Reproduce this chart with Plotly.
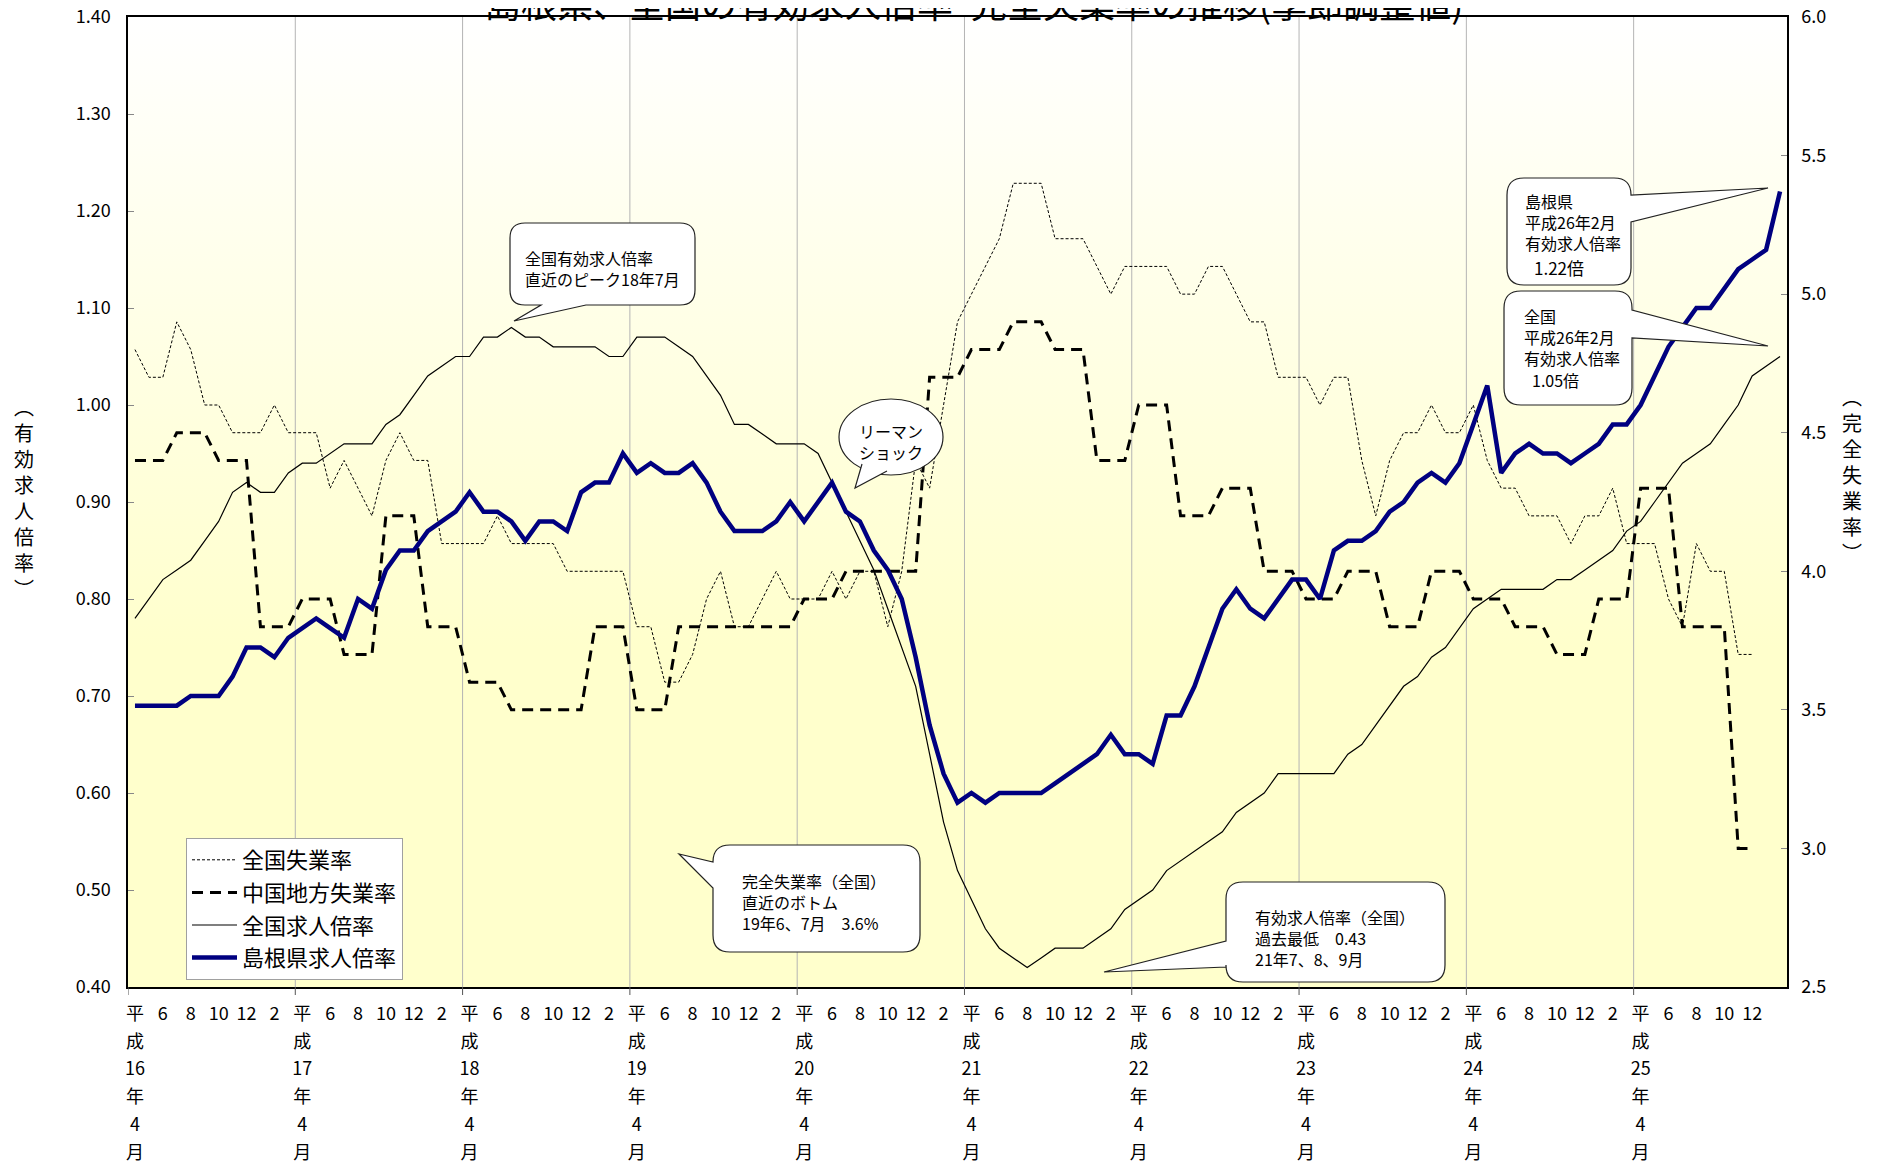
import re
import base64
import plotly.graph_objects as go

# ---------------- data ----------------
months = [
    "H16.4", "H16.5", "H16.6", "H16.7", "H16.8", "H16.9", "H16.10", "H16.11", "H16.12",
    "H17.1", "H17.2", "H17.3", "H17.4", "H17.5", "H17.6", "H17.7", "H17.8", "H17.9", "H17.10", "H17.11", "H17.12",
    "H18.1", "H18.2", "H18.3", "H18.4", "H18.5", "H18.6", "H18.7", "H18.8", "H18.9", "H18.10", "H18.11", "H18.12",
    "H19.1", "H19.2", "H19.3", "H19.4", "H19.5", "H19.6", "H19.7", "H19.8", "H19.9", "H19.10", "H19.11", "H19.12",
    "H20.1", "H20.2", "H20.3", "H20.4", "H20.5", "H20.6", "H20.7", "H20.8", "H20.9", "H20.10", "H20.11", "H20.12",
    "H21.1", "H21.2", "H21.3", "H21.4", "H21.5", "H21.6", "H21.7", "H21.8", "H21.9", "H21.10", "H21.11", "H21.12",
    "H22.1", "H22.2", "H22.3", "H22.4", "H22.5", "H22.6", "H22.7", "H22.8", "H22.9", "H22.10", "H22.11", "H22.12",
    "H23.1", "H23.2", "H23.3", "H23.4", "H23.5", "H23.6", "H23.7", "H23.8", "H23.9", "H23.10", "H23.11", "H23.12",
    "H24.1", "H24.2", "H24.3", "H24.4", "H24.5", "H24.6", "H24.7", "H24.8", "H24.9", "H24.10", "H24.11", "H24.12",
    "H25.1", "H25.2", "H25.3", "H25.4", "H25.5", "H25.6", "H25.7", "H25.8", "H25.9", "H25.10", "H25.11", "H25.12",
    "H26.1", "H26.2",
]

tick_labels = [
    "平成16年4月", "6", "8", "10", "12", "2",
    "平成17年4月", "6", "8", "10", "12", "2",
    "平成18年4月", "6", "8", "10", "12", "2",
    "平成19年4月", "6", "8", "10", "12", "2",
    "平成20年4月", "6", "8", "10", "12", "2",
    "平成21年4月", "6", "8", "10", "12", "2",
    "平成22年4月", "6", "8", "10", "12", "2",
    "平成23年4月", "6", "8", "10", "12", "2",
    "平成24年4月", "6", "8", "10", "12", "2",
    "平成25年4月", "6", "8", "10", "12", "",
]

# 島根県求人倍率 (left axis)
shimane_ratio = [
    0.69, 0.69, 0.69, 0.69, 0.70, 0.70, 0.70, 0.72, 0.75, 0.75,
    0.74, 0.76, 0.77, 0.78, 0.77, 0.76, 0.80, 0.79, 0.83, 0.85,
    0.85, 0.87, 0.88, 0.89, 0.91, 0.89, 0.89, 0.88, 0.86, 0.88,
    0.88, 0.87, 0.91, 0.92, 0.92, 0.95, 0.93, 0.94, 0.93, 0.93,
    0.94, 0.92, 0.89, 0.87, 0.87, 0.87, 0.88, 0.90, 0.88, 0.90,
    0.92, 0.89, 0.88, 0.85, 0.83, 0.80, 0.74, 0.67, 0.62, 0.59,
    0.60, 0.59, 0.60, 0.60, 0.60, 0.60, 0.61, 0.62, 0.63, 0.64,
    0.66, 0.64, 0.64, 0.63, 0.68, 0.68, 0.71, 0.75, 0.79, 0.81,
    0.79, 0.78, 0.80, 0.82, 0.82, 0.80, 0.85, 0.86, 0.86, 0.87,
    0.89, 0.90, 0.92, 0.93, 0.92, 0.94, 0.98, 1.02, 0.93, 0.95,
    0.96, 0.95, 0.95, 0.94, 0.95, 0.96, 0.98, 0.98, 1.00, 1.03,
    1.06, 1.08, 1.10, 1.10, 1.12, 1.14, 1.15, 1.16, 1.22,
]

# 全国求人倍率 (left axis)
national_ratio = [
    0.78, 0.80, 0.82, 0.83, 0.84, 0.86, 0.88, 0.91, 0.92, 0.91,
    0.91, 0.93, 0.94, 0.94, 0.95, 0.96, 0.96, 0.96, 0.98, 0.99,
    1.01, 1.03, 1.04, 1.05, 1.05, 1.07, 1.07, 1.08, 1.07, 1.07,
    1.06, 1.06, 1.06, 1.06, 1.05, 1.05, 1.07, 1.07, 1.07, 1.06,
    1.05, 1.03, 1.01, 0.98, 0.98, 0.97, 0.96, 0.96, 0.96, 0.95,
    0.92, 0.89, 0.86, 0.83, 0.79, 0.75, 0.71, 0.64, 0.57, 0.52,
    0.49, 0.46, 0.44, 0.43, 0.42, 0.43, 0.44, 0.44, 0.44, 0.45,
    0.46, 0.48, 0.49, 0.50, 0.52, 0.53, 0.54, 0.55, 0.56, 0.58,
    0.59, 0.60, 0.62, 0.62, 0.62, 0.62, 0.62, 0.64, 0.65, 0.67,
    0.69, 0.71, 0.72, 0.74, 0.75, 0.77, 0.79, 0.80, 0.81, 0.81,
    0.81, 0.81, 0.82, 0.82, 0.83, 0.84, 0.85, 0.87, 0.88, 0.90,
    0.92, 0.94, 0.95, 0.96, 0.98, 1.00, 1.03, 1.04, 1.05,
]

# 全国失業率 (right axis, %)
national_unemp = [
    4.8, 4.7, 4.7, 4.9, 4.8, 4.6, 4.6, 4.5, 4.5, 4.5,
    4.6, 4.5, 4.5, 4.5, 4.3, 4.4, 4.3, 4.2, 4.4, 4.5,
    4.4, 4.4, 4.1, 4.1, 4.1, 4.1, 4.2, 4.1, 4.1, 4.1,
    4.1, 4.0, 4.0, 4.0, 4.0, 4.0, 3.8, 3.8, 3.6, 3.6,
    3.7, 3.9, 4.0, 3.8, 3.8, 3.9, 4.0, 3.9, 3.9, 3.9,
    4.0, 3.9, 4.0, 4.0, 3.8, 4.0, 4.4, 4.3, 4.6, 4.9,
    5.0, 5.1, 5.2, 5.4, 5.4, 5.4, 5.2, 5.2, 5.2, 5.1,
    5.0, 5.1, 5.1, 5.1, 5.1, 5.0, 5.0, 5.1, 5.1, 5.0,
    4.9, 4.9, 4.7, 4.7, 4.7, 4.6, 4.7, 4.7, 4.4, 4.2,
    4.4, 4.5, 4.5, 4.6, 4.5, 4.5, 4.6, 4.4, 4.3, 4.3,
    4.2, 4.2, 4.2, 4.1, 4.2, 4.2, 4.3, 4.1, 4.1, 4.1,
    3.9, 3.8, 4.1, 4.0, 4.0, 3.7, 3.7,
]

# 中国地方失業率 (right axis, %, quarterly values shown monthly)
chugoku_unemp = [
    4.4, 4.4, 4.4, 4.5, 4.5, 4.5, 4.4, 4.4, 4.4, 3.8,
    3.8, 3.8, 3.9, 3.9, 3.9, 3.7, 3.7, 3.7, 4.2, 4.2,
    4.2, 3.8, 3.8, 3.8, 3.6, 3.6, 3.6, 3.5, 3.5, 3.5,
    3.5, 3.5, 3.5, 3.8, 3.8, 3.8, 3.5, 3.5, 3.5, 3.8,
    3.8, 3.8, 3.8, 3.8, 3.8, 3.8, 3.8, 3.8, 3.9, 3.9,
    3.9, 4.0, 4.0, 4.0, 4.0, 4.0, 4.0, 4.7, 4.7, 4.7,
    4.8, 4.8, 4.8, 4.9, 4.9, 4.9, 4.8, 4.8, 4.8, 4.4,
    4.4, 4.4, 4.6, 4.6, 4.6, 4.2, 4.2, 4.2, 4.3, 4.3,
    4.3, 4.0, 4.0, 4.0, 3.9, 3.9, 3.9, 4.0, 4.0, 4.0,
    3.8, 3.8, 3.8, 4.0, 4.0, 4.0, 3.9, 3.9, 3.9, 3.8,
    3.8, 3.8, 3.7, 3.7, 3.7, 3.9, 3.9, 3.9, 4.3, 4.3,
    4.3, 3.8, 3.8, 3.8, 3.8, 3.0, 3.0,
]

left_ticks = [0.40, 0.50, 0.60, 0.70, 0.80, 0.90, 1.00, 1.10, 1.20, 1.30, 1.40]
right_ticks = [2.5, 3.0, 3.5, 4.0, 4.5, 5.0, 5.5, 6.0]

# ---------------- styling helpers ----------------
JP = "Noto Sans CJK JP"
NUM = "Liberation Sans Narrow, Noto Sans CJK JP, sans-serif"

SCREEN_W, SCREEN_H = 1880, 1164
OFF = 8                                # page body margin offset
W, H = SCREEN_W - OFF, SCREEN_H - OFF
L, R, T, B = 128, 1787, 17, 987        # plot area in screen pixels


def fx(X):
    return (X - L) / (R - L)


def fy(Y):
    return (B - Y) / (B - T)


def P(X, Y):
    return f"{fx(X):.5f},{fy(Y):.5f}"


def fmt_tick(s):
    if not s:
        return ""
    parts = re.findall(r"\d+|\D", s) if s.startswith("平成") else [s]
    return "<br>".join(f'<span style="font-size:18px">{p}</span>' for p in parts)


def callout_path(x0, y0, x1, y1, r, side, a, b, tip):
    s = "M" + P(x0 + r, y0)
    s += " L" + P(x1 - r, y0)
    s += " Q" + P(x1, y0) + " " + P(x1, y0 + r)
    if side == "right":
        s += " L" + P(x1, a) + " L" + P(*tip) + " L" + P(x1, b)
    s += " L" + P(x1, y1 - r)
    s += " Q" + P(x1, y1) + " " + P(x1 - r, y1)
    if side == "bottom":
        s += " L" + P(b, y1) + " L" + P(*tip) + " L" + P(a, y1)
    s += " L" + P(x0 + r, y1)
    s += " Q" + P(x0, y1) + " " + P(x0, y1 - r)
    if side == "left":
        s += " L" + P(x0, b) + " L" + P(*tip) + " L" + P(x0, a)
    s += " L" + P(x0, y0 + r)
    s += " Q" + P(x0, y0) + " " + P(x0 + r, y0) + " Z"
    return s


# ---------------- figure ----------------
fig = go.Figure()

fig.add_trace(go.Scatter(
    x=months[:len(national_unemp)], y=national_unemp, name="全国失業率",
    yaxis="y", mode="lines", legendgroup="a",
    line=dict(color="black", width=1, dash="3px,2px"),
))
fig.add_trace(go.Scatter(
    x=months[:len(chugoku_unemp)], y=chugoku_unemp, name="中国地方失業率",
    yaxis="y", mode="lines", legendgroup="b",
    line=dict(color="black", width=3, dash="11px,7px"),
))
fig.add_trace(go.Scatter(
    x=months, y=national_ratio, name="全国求人倍率",
    yaxis="y2", mode="lines", legendgroup="c",
    line=dict(color="black", width=1.2),
))
fig.add_trace(go.Scatter(
    x=months, y=shimane_ratio, name="島根県求人倍率",
    yaxis="y2", mode="lines", legendgroup="d",
    line=dict(color="#000080", width=4.5),
))

# background gradient (white -> light yellow)
svg = ('<svg xmlns="http://www.w3.org/2000/svg" width="100" height="100" viewBox="0 0 100 100" '
       'preserveAspectRatio="none"><defs><linearGradient id="g" x1="0" y1="0" x2="0" y2="1">'
       '<stop offset="0" stop-color="#FFFFFF"/><stop offset="0.65" stop-color="#FFFFCC"/>'
       '<stop offset="1" stop-color="#FFFFCC"/></linearGradient></defs>'
       '<rect width="100" height="100" fill="url(#g)"/></svg>')
bg_src = "data:image/svg+xml;base64," + base64.b64encode(svg.encode()).decode()

shapes = []
# vertical year gridlines and boundary tick marks
for k in range(10):
    xb = -0.5 + 12 * k
    if k > 0:
        shapes.append(dict(type="line", xref="x", yref="paper", x0=xb, x1=xb, y0=0, y1=1,
                           line=dict(color="#B4B4B4", width=1), layer="below"))
    shapes.append(dict(type="line", xref="x", yref="paper", x0=xb, x1=xb, y0=0, y1=fy(B + 8),
                       line=dict(color="#555555", width=1)))

box_line = dict(color="#222222", width=1.2)
# callout boxes
shapes.append(dict(type="path", xref="paper", yref="paper", fillcolor="white", line=box_line,
                   path=callout_path(510, 223, 695, 305, 15, "bottom", 541, 586, (514, 321))))
shapes.append(dict(type="path", xref="paper", yref="paper", fillcolor="white", line=box_line,
                   path=callout_path(713, 845, 920, 952, 17, "left", 862, 888, (679, 854))))
shapes.append(dict(type="path", xref="paper", yref="paper", fillcolor="white", line=box_line,
                   path=callout_path(1226, 882, 1445, 982, 17, "left", 941, 967, (1104, 972))))
shapes.append(dict(type="path", xref="paper", yref="paper", fillcolor="white", line=box_line,
                   path=callout_path(1507, 178, 1631, 285, 17, "right", 195, 222, (1768, 188))))
shapes.append(dict(type="path", xref="paper", yref="paper", fillcolor="white", line=box_line,
                   path=callout_path(1504, 291, 1632, 405, 17, "right", 310, 338, (1768, 346))))
# ellipse callout (リーマンショック)
shapes.append(dict(type="circle", xref="paper", yref="paper", fillcolor="white", line=box_line,
                   x0=fx(891 - 52), x1=fx(891 + 52), y0=fy(437 + 38), y1=fy(437 - 38)))
shapes.append(dict(type="path", xref="paper", yref="paper", fillcolor="white", line=box_line,
                   path="M" + P(862, 464) + " L" + P(855, 488) + " L" + P(887, 471)))

ann_font = dict(family=JP, size=16, color="black")
annotations = [
    dict(text="島根県、全国の有効求人倍率･完全失業率の推移(季節調整値)", xref="paper", yref="paper",
         x=fx(974), y=fy(2), xanchor="center", yanchor="middle", showarrow=False,
         font=dict(family=JP, size=36, color="black")),
    dict(text="︵<br>有<br>効<br>求<br>人<br>倍<br>率<br>︶", xref="paper", yref="paper",
         x=fx(24), y=fy(497), xanchor="center", yanchor="middle", showarrow=False,
         font=dict(family=JP, size=20, color="black")),
    dict(text="︵<br>完<br>全<br>失<br>業<br>率<br>︶", xref="paper", yref="paper",
         x=fx(1852), y=fy(474), xanchor="center", yanchor="middle", showarrow=False,
         font=dict(family=JP, size=20, color="black")),
    dict(text="全国有効求人倍率<br>直近のピーク18年7月", xref="paper", yref="paper",
         x=fx(523), y=fy(244), xanchor="left", yanchor="top", align="left", showarrow=False,
         font=ann_font),
    dict(text="リーマン<br>ショック", xref="paper", yref="paper",
         x=fx(891), y=fy(441), xanchor="center", yanchor="middle", align="center", showarrow=False,
         font=ann_font),
    dict(text="完全失業率（全国）<br>直近のボトム<br>19年6、7月　3.6%", xref="paper", yref="paper",
         x=fx(740), y=fy(867), xanchor="left", yanchor="top", align="left", showarrow=False,
         font=ann_font),
    dict(text="有効求人倍率（全国）<br>過去最低　0.43<br>21年7、8、9月", xref="paper", yref="paper",
         x=fx(1253), y=fy(903), xanchor="left", yanchor="top", align="left", showarrow=False,
         font=ann_font),
    dict(text="島根県<br>平成26年2月<br>有効求人倍率", xref="paper", yref="paper",
         x=fx(1523), y=fy(187), xanchor="left", yanchor="top", align="left", showarrow=False,
         font=ann_font),
    dict(text="1.22倍", xref="paper", yref="paper",
         x=fx(1532), y=fy(267), xanchor="left", yanchor="middle", align="left", showarrow=False,
         font=dict(family=JP, size=17, color="black")),
    dict(text="全国<br>平成26年2月<br>有効求人倍率", xref="paper", yref="paper",
         x=fx(1522), y=fy(302), xanchor="left", yanchor="top", align="left", showarrow=False,
         font=ann_font),
    dict(text="1.05倍", xref="paper", yref="paper",
         x=fx(1530), y=fy(380), xanchor="left", yanchor="middle", align="left", showarrow=False,
         font=ann_font),
]

fig.update_layout(
    width=W, height=H,
    margin=dict(l=L - OFF, r=SCREEN_W - R, t=T - OFF, b=SCREEN_H - B, pad=0, autoexpand=False),
    paper_bgcolor="white",
    plot_bgcolor="rgba(0,0,0,0)",
    images=[dict(source=bg_src, xref="paper", yref="paper", x=0, y=1, sizex=1, sizey=1,
                 xanchor="left", yanchor="top", sizing="stretch", layer="below")],
    shapes=shapes,
    annotations=annotations,
    showlegend=True,
    legend=dict(x=fx(186), y=fy(838), xanchor="left", yanchor="top",
                bgcolor="white", bordercolor="#A0A0A0", borderwidth=1,
                font=dict(family=JP, size=22, color="black"),
                tracegroupgap=1, itemwidth=45),
    xaxis=dict(
        type="category", categoryorder="array", categoryarray=months,
        range=[-0.5, len(months) - 0.5], automargin=False,
        tickmode="array", tickvals=months[0::2], ticktext=[fmt_tick(t) for t in tick_labels],
        ticks="", tickangle=0, showgrid=False, zeroline=False,
        showline=True, linecolor="black", linewidth=1.5, mirror=True,
        tickfont=dict(family=NUM, size=21.5, color="black"), ticklabelstandoff=5,
    ),
    yaxis=dict(
        side="right", range=[2.5, 6.0], tickmode="array", tickvals=right_ticks, automargin=False,
        tickformat=".1f", ticks="inside", ticklen=6, tickcolor="#888888",
        showline=True, linecolor="black", linewidth=1.5, showgrid=False, zeroline=False,
        tickfont=dict(family=NUM, size=18, color="black"), ticklabelstandoff=9,
        ticklabeloverflow="allow",
    ),
    yaxis2=dict(
        side="left", overlaying="y", range=[0.4, 1.4], tickmode="array", tickvals=left_ticks,
        automargin=False,
        tickformat=".2f", ticks="inside", ticklen=6, tickcolor="#888888",
        showline=True, linecolor="black", linewidth=1.5, showgrid=False, zeroline=False,
        tickfont=dict(family=NUM, size=18, color="black"), ticklabelstandoff=12,
        ticklabeloverflow="allow",
    ),
)

fig.write_html("out.html")
